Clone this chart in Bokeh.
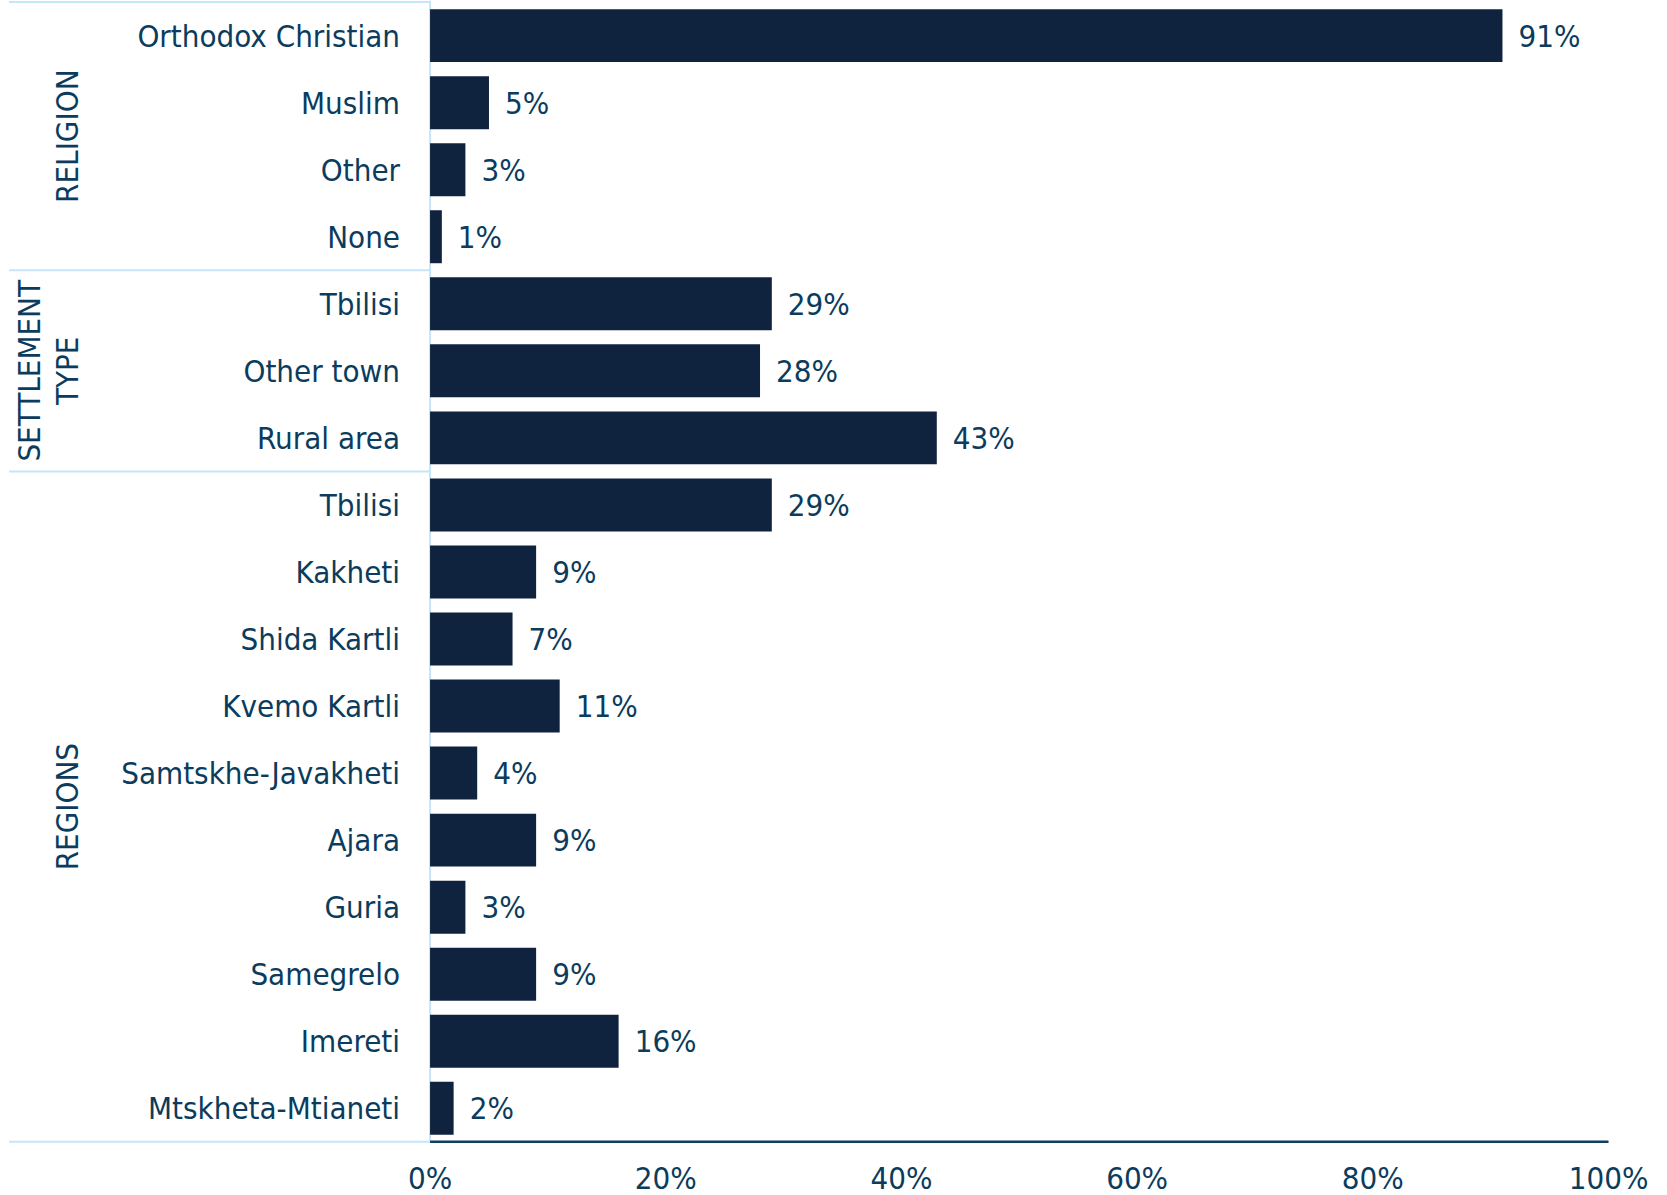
from bokeh.plotting import figure
from bokeh.models import Range1d, FixedTicker, PrintfTickFormatter, ColumnDataSource
from bokeh.core.properties import value
from bokeh.embed import file_html
from bokeh.resources import INLINE

categories = ["Orthodox Christian", "Muslim", "Other", "None",
              "Tbilisi", "Other town", "Rural area",
              "Tbilisi", "Kakheti", "Shida Kartli", "Kvemo Kartli",
              "Samtskhe-Javakheti", "Ajara", "Guria", "Samegrelo",
              "Imereti", "Mtskheta-Mtianeti"]
values = [91, 5, 3, 1, 29, 28, 43, 29, 9, 7, 11, 4, 9, 3, 9, 16, 2]
group_labels = ["RELIGION", "SETTLEMENT\nTYPE", "REGIONS"]
group_first = [0, 4, 7]
group_last = [3, 6, 16]
x_ticks = [0, 20, 40, 60, 80, 100]

FONT = "DejaVu Sans Condensed"
FS = "31px"
TEXT = "#0b3c5d"
BAR = "#0f233f"
LIGHT = "#c5e5f8"
DARK = "#0d3f5f"

X_LEFT, X_RIGHT = -36.45, 104.41
SEP_LEFT = -35.72
Y_TOP = -0.524
Y_BOTTOM = Y_TOP + 1143 / 67.04

rows = list(range(len(categories)))
src = ColumnDataSource(dict(
    y=rows, v=values, cat=categories,
    lab=[f"{v}%" for v in values],
    lx=[v + 1.36 for v in values],
))

p = figure(frame_width=1660, frame_height=1143,
           x_range=Range1d(X_LEFT, X_RIGHT), y_range=Range1d(Y_BOTTOM, Y_TOP),
           output_backend="svg", toolbar_location=None,
           min_border_left=0, min_border_right=0, min_border_top=0, min_border_bottom=0)
p.outline_line_color = None
p.grid.visible = False
p.yaxis.visible = False
xa = p.xaxis[0]
xa.ticker = FixedTicker(ticks=x_ticks)
xa.formatter = PrintfTickFormatter(format="%d%%")
xa.axis_line_color = None
xa.major_tick_line_color = None
xa.minor_tick_line_color = None
xa.major_label_text_font = FONT
xa.major_label_text_font_size = FS
xa.major_label_text_color = TEXT
xa.major_label_standoff = 10

# separators
bottom = group_last[-1] + 0.5
sep_y = [f - 0.5 for f in group_first] + [bottom]
p.segment(x0=[SEP_LEFT] * len(sep_y), x1=[0] * len(sep_y), y0=sep_y, y1=sep_y,
          line_color=LIGHT, line_width=2)
p.segment(x0=[0], x1=[0], y0=[Y_TOP], y1=[bottom], line_color=LIGHT, line_width=2)
p.segment(x0=[0], x1=[100], y0=[bottom], y1=[bottom], line_color=DARK, line_width=2.5)

p.hbar(y="y", left=0, right="v", height=0.79, source=src, fill_color=BAR, line_color=None)

p.text(x=-2.55, y="y", text="cat", source=src, text_align="right", text_baseline="middle",
       text_font=value(FONT), text_font_size=FS, text_color=TEXT)
p.text(x="lx", y="y", text="lab", source=src, text_align="left", text_baseline="middle",
       text_font=value(FONT), text_font_size=FS, text_color=TEXT)

gx, gy, gt = [], [], []
for name, f, l in zip(group_labels, group_first, group_last):
    lines = name.split("\n")
    n = len(lines)
    for k, t in enumerate(lines):
        gx.append(-30.8 - (n - 1 - k) * 3.2)
        gy.append((f + l) / 2)
        gt.append(t)
p.text(x=gx, y=gy, text=gt, angle=1.5707963, text_align="center", text_baseline="middle",
       text_font=value(FONT), text_font_size=FS, text_color=TEXT)

open("out.html", "w").write(file_html(p, INLINE))
